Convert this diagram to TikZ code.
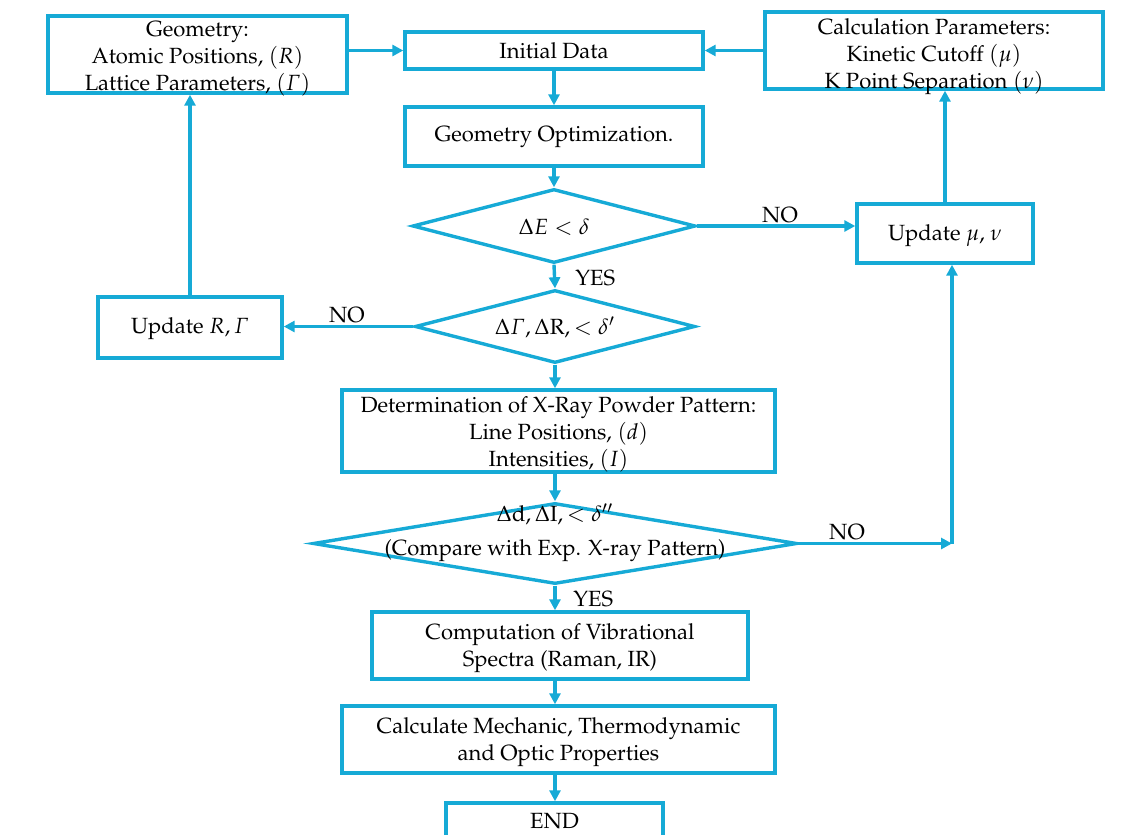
\documentclass[tikz,border=0pt]{standalone}
\usepackage[T1]{fontenc}
\usepackage{mathpazo}
\usepackage{amsmath}
\usetikzlibrary{shapes.geometric,arrows.meta}
\definecolor{flowblue}{RGB}{22,170,214}
\tikzset{
  box/.style={draw=flowblue, line width=1.7pt, rectangle, inner sep=0pt, align=center,
    font=\fontsize{11}{13.5}\selectfont},
  decision/.style={draw=flowblue, line width=1.7pt, diamond, inner sep=0pt},
  dlabel/.style={inner sep=0pt, align=center, font=\fontsize{11}{13.5}\selectfont},
  tag/.style={inner sep=0pt, font=\fontsize{11}{13}\selectfont},
  arr/.style={draw=flowblue, line width=1.7pt, -{Triangle[length=5.5pt,width=5.5pt]}}
}
\begin{document}
\begin{tikzpicture}[x=0.5pt,y=-0.5pt]
\useasboundingbox (0,0) rectangle (1135,835);
% boxes
\node[box, minimum width=149.5pt, minimum height=38.5pt] (geo) at (197.5,54.5) {};
\node[dlabel] (geot) at (197.5,59)
  {Geometry:\\ Atomic Positions, $(R)$\\ Lattice Parameters, $(\varGamma)$};
\node[box, minimum width=149pt, minimum height=18.5pt] (init) at (554,50.5) {Initial Data};
\node[box, minimum width=169pt, minimum height=38.5pt] (calc) at (934,50.5) {};
\node[dlabel] (calct) at (934,57)
  {Calculation Parameters:\\ Kinetic Cutoff $(\mu)$\\ K Point Separation $(\nu)$};
\node[box, minimum width=149pt, minimum height=29.5pt] (gopt) at (554,136.5) {Geometry Optimization.};
\node[decision, minimum width=141.5pt, minimum height=37pt] (d1) at (554,226) {};
\node[dlabel] (d1t) at (554,227) {$\Delta E < \delta$};
\node[decision, minimum width=140pt, minimum height=36.5pt] (d2) at (555,326.5) {};
\node[dlabel] (d2t) at (555,327) {$\Delta\varGamma, \Delta\mathrm{R}, < \delta'$};
\node[box, minimum width=88pt, minimum height=29.5pt] (upmu) at (945,233.5) {};
\node[dlabel] (upmut) at (945,236) {Update $\mu$, $\nu$};
\node[box, minimum width=92pt, minimum height=30.5pt] (upR) at (190,327.5) {};
\node[dlabel] (upRt) at (190,329) {Update $R, \varGamma$};
\node[box, minimum width=216.5pt, minimum height=41pt] (xray) at (558.5,431) {};
\node[dlabel] (xrayt) at (558.5,434)
  {Determination of X-Ray Powder Pattern:\\ Line Positions, $(d)$\\ Intensities, $(I)$};
\node[decision, minimum width=242pt, minimum height=40.5pt] (d3) at (555,543.5) {};
\node[dlabel, font=\fontsize{11}{17}\selectfont] (d3t) at (555,533)
  {$\Delta\mathrm{d}, \Delta\mathrm{I}, < \delta''$\\ (Compare with Exp. X-ray Pattern)};
\node[box, minimum width=188pt, minimum height=33.5pt] (comp) at (560,645.5) {};
\node[dlabel] (compt) at (560,648.5) {Computation of Vibrational\\ Spectra (Raman, IR)};
\node[box, minimum width=216.5pt, minimum height=33.5pt] (calcm) at (558.5,739.5) {};
\node[dlabel] (calcmt) at (558.5,742) {Calculate Mechanic, Thermodynamic\\ and Optic Properties};
\node[box, minimum width=108.5pt, minimum height=18.5pt] (end) at (554.5,821.5) {END};
\coordinate (corner) at (952,543.5);
% main flow
\draw[arr] (geo.east |- init.west) -- (init.west);
\draw[arr] (calc.west |- init.east) -- (init.east);
\draw[arr] (init.south) -- (gopt.north);
\draw[arr] (gopt.south) -- (d1.north);
\draw[arr] (d1.south) -- (d2.north);
\draw[arr] (d2.south) -- (d2.south |- xray.north);
\draw[arr] (d2.south |- xray.south) -- (d3.north);
\draw[arr] (d3.south) -- (d3.south |- comp.north);
\draw[arr] (d3.south |- comp.south) -- (d3.south |- calcm.north);
\draw[arr] (d3.south |- calcm.south) -- (d3.south |- end.north);
% loops
\draw[arr] (d1.east) -- (d1.east -| upmu.west);
\draw[arr] (upmu.north) -- (upmu.north |- calc.south);
\draw[arr] (d2.west) -- (d2.west -| upR.east);
\draw[arr] (upR.north) -- (upR.north |- geo.south);
\draw[arr] (d3.east) -- (corner);
\draw[arr] (corner) -- (corner |- upmu.south);
% labels
\node[tag, anchor=west] (yes1) at (575,278) {YES};
\node[tag] (no1) at (780,215) {NO};
\node[tag] (no2) at (347,315) {NO};
\node[tag] (no3) at (847,532) {NO};
\node[tag, anchor=west] (yes2) at (573,599) {YES};
\end{tikzpicture}
\end{document}
